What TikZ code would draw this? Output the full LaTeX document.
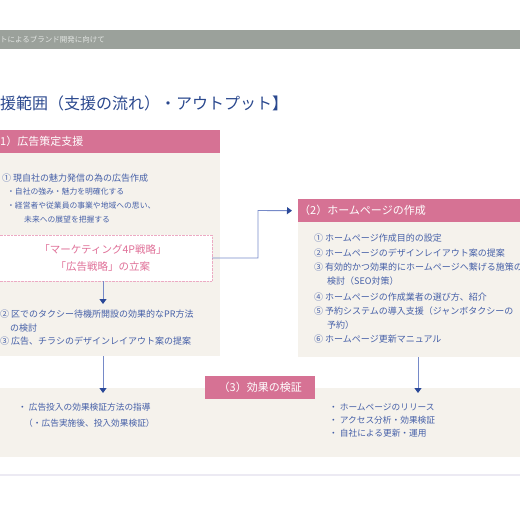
\documentclass[tikz,border=0pt]{standalone}
\usepackage{fontspec}
\setmainfont{Noto Sans CJK JP}
\usetikzlibrary{arrows.meta}

\definecolor{bargray}{RGB}{155,161,155}
\definecolor{bartext}{RGB}{226,229,226}
\definecolor{titlenavy}{RGB}{42,72,142}
\definecolor{headpink}{RGB}{214,114,148}
\definecolor{panelcream}{RGB}{245,242,236}
\definecolor{itemblue}{RGB}{70,96,168}
\definecolor{stratpink}{RGB}{224,112,152}
\definecolor{dotpink}{RGB}{236,170,195}
\definecolor{lineblue}{RGB}{118,138,200}
\definecolor{arrowblue}{RGB}{42,72,152}
\definecolor{rulelav}{RGB}{236,234,243}

\begin{document}
\begin{tikzpicture}[
    x=1pt, y=-1pt,
    >={Triangle[width=7pt,length=5pt,color=arrowblue]},
    panel/.style={fill=panelcream, inner sep=0pt, anchor=north west},
    header/.style={fill=headpink, text=white, inner sep=0pt, minimum height=23pt, font=\fontsize{11}{13}\selectfont},
    item/.style={anchor=west, inner sep=0pt, text=itemblue, font=\fontsize{9}{11}\selectfont},
    subitem/.style={item, font=\fontsize{7.8}{9}\selectfont},
    line/.style={->, draw=lineblue, line width=0.9pt}
    ]
\useasboundingbox (0,0) rectangle (520,520);
\clip (0,0) rectangle (520,520);

% Top bar and title
\node[fill=bargray, anchor=north west, minimum width=520pt, minimum height=19pt, inner sep=0pt] (topbar) at (0,30) {};
\node[anchor=west, inner sep=0pt, text=bartext, font=\fontsize{7.5}{9}\selectfont] (bartitle) at (0,40) {トによるブランド開発に向けて};
\node[anchor=west, inner sep=0pt, text=titlenavy, font=\fontsize{16}{18}\selectfont] (title) at (0,103) {援範囲（支援の流れ）・アウトプット】};

% Panels (fixed coordinates)
\node[panel, minimum width=220pt, minimum height=203pt] (adbody) at (0,153) {};
\node[panel, minimum width=222pt, minimum height=135pt] (hpbody) at (298,222) {};
\node[panel, minimum width=520pt, minimum height=69pt] (effbody) at (0,388) {};

% Headers
\node[header, anchor=north west, text width=220pt, align=left] (adhead) at (0,130) {1）広告策定支援};
\node[header, anchor=north west, text width=220pt, align=left, inner xsep=1pt] (hphead) at (298,199) {（2）ホームページの作成};
\node[header, anchor=north west, minimum width=110pt] (effhead) at (205,376) {（3）効果の検証};

% (1) contents
\node[item] (ad1) at (2,178) {① 現自社の魅力発信の為の広告作成};
\node[subitem] (ad1a) at (7,192) {・自社の強み・魅力を明確化する};
\node[subitem] (ad1b) at (7,206) {・経営者や従業員の事業や地域への思い、};
\node[subitem] (ad1c) at (24,220) {未来への展望を把握する};

\node[draw=dotpink, densely dotted, fill=white, minimum width=218pt, minimum height=46pt,
      text=stratpink, align=center, font=\fontsize{10.5}{17}\selectfont] (strat) at (103,258)
      {「マーケティング4P戦略」\\「広告戦略」の立案};
\coordinate (prtop) at (103,304);

\node[item] (ad2) at (0,314) {② 区でのタクシー待機所開設の効果的なPR方法};
\node[item] (ad2b) at (10,328) {の検討};
\node[item] (ad3) at (0,341) {③ 広告、チラシのデザインレイアウト案の提案};

% (2) contents
\node[item] (hp1) at (314,238) {① ホームページ作成目的の設定};
\node[item] (hp2) at (314,253) {② ホームページのデザインレイアウト案の提案};
\node[item] (hp3) at (314,267) {③ 有効的かつ効果的にホームページへ繋げる施策の};
\node[item] (hp3b) at (327,281) {検討（SEO対策）};
\node[item] (hp4) at (314,297) {④ ホームページの作成業者の選び方、紹介};
\node[item] (hp5) at (314,311) {⑤ 予約システムの導入支援（ジャンボタクシーの};
\node[item] (hp5b) at (327,325) {予約）};
\node[item] (hp6) at (314,339) {⑥ ホームページ更新マニュアル};

% (3) contents
\node[item, font=\fontsize{8.7}{10}\selectfont] (eff1) at (18,407) {・ 広告投入の効果検証方法の指導};
\node[item, font=\fontsize{8.7}{10}\selectfont] (eff1b) at (24,423) {（・広告実施後、投入効果検証）};
\node[item, font=\fontsize{8.7}{10}\selectfont] (eff2) at (329,407) {・ ホームページのリリース};
\node[item, font=\fontsize{8.7}{10}\selectfont] (eff3) at (329,420) {・ アクセス分析・効果検証};
\node[item, font=\fontsize{8.7}{10}\selectfont] (eff4) at (329,433) {・ 自社による更新・運用};

% Arrows
\coordinate (hpbend) at (258,210.5);
\draw[line] (strat.south) -- (prtop);
\draw[line, shorten >=6pt] (strat.east) -| (hpbend) -- (hphead.west);
\draw[line] (adbody.south -| strat.south) -- ([yshift=-5pt]strat.south |- effbody.north);
\coordinate (hpdown) at (418,357);
\draw[line] (hpdown) -- ([yshift=-5pt]hpdown |- effbody.north);

% Bottom rule
\draw[rulelav, line width=1.2pt] (0,475) -- (520,475);

\end{tikzpicture}
\end{document}
